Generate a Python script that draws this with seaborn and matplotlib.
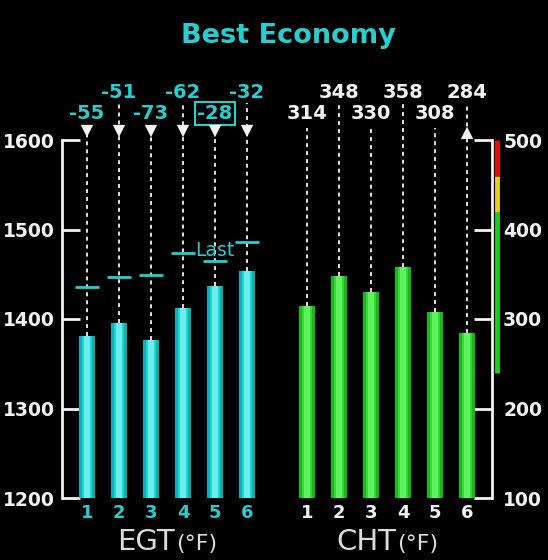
import matplotlib
matplotlib.use("Agg")
import matplotlib.pyplot as plt
import seaborn as sns

# engine monitor values
cylinders = ["1", "2", "3", "4", "5", "6"]
egt = [1381, 1396, 1376, 1412, 1437, 1454]
egt_peak = [1436, 1447, 1449, 1474, 1465, 1486]
egt_from_peak = ["-55", "-51", "-73", "-62", "-28", "-32"]
cht = [314, 348, 330, 358, 308, 284]
egt_ticks = [1200, 1300, 1400, 1500, 1600]
cht_ticks = [100, 200, 300, 400, 500]
cht_band = [240, 420, 460, 500]
cht_band_colors = ["#22cc22", "#e2d41e", "#dd1111"]
boxed_cyl = "5"
last_cyl = "5"
cht_marked_cyl = "6"

CYAN = "#25cfcf"
WHITE = "#f2f2f2"
GREY = "#dcdcdc"

sns.set_theme(style="dark", rc={
    "figure.facecolor": "black",
    "axes.facecolor": "black",
    "axes.grid": False,
})
plt.rcParams["font.family"] = ["DejaVu Sans"]

fig = plt.figure(figsize=(5.48, 5.60), dpi=100)
ax_egt = fig.add_axes([62 / 548, 62 / 560, 210 / 548, 358 / 560])
ax_cht = fig.add_axes([282 / 548, 62 / 560, 210 / 548, 358 / 560])


def draw_bars(ax, values, colors):
    # three layers to fake the cylinder shading
    for width, color in zip([0.5, 0.34, 0.16], colors):
        sns.barplot(x=cylinders, y=values, ax=ax, color=color, width=width,
                    saturation=1, errorbar=None, edgecolor="none",
                    linewidth=0, zorder=3)


def frac_to_data(ax, f):
    lo, hi = ax.get_ylim()
    return lo + f * (hi - lo)


# ---- EGT ----
ax = ax_egt
draw_bars(ax, egt, ["#0fb0b0", "#22d4d4", "#6aeeee"])
ax.set_ylim(1200, 1600)
ax.set_xlim(-0.78, 5.78)
for i, v in enumerate(egt):
    top = 1.014 if i % 2 == 0 else 1.103
    ax.vlines(i, v, frac_to_data(ax, top), colors=WHITE, lw=1.3,
              linestyles=(0, (2.2, 2.2)), clip_on=False, zorder=2)
    ax.hlines(egt_peak[i], i - 0.38, i + 0.38, colors=CYAN, lw=2, zorder=4)
    y_lab = 1.075 if i % 2 == 0 else 1.134
    box = None
    if cylinders[i] == boxed_cyl:
        box = dict(boxstyle="square,pad=0.1", fc="black", ec=CYAN, lw=1.5)
    ax.text(i, y_lab, egt_from_peak[i], transform=ax.get_xaxis_transform(),
            ha="center", va="center", color=CYAN, fontsize=14,
            fontweight="bold", bbox=box, zorder=5)
ax.scatter(range(len(cylinders)), [frac_to_data(ax, 1.025)] * len(cylinders),
           marker="v", s=80, color=WHITE, edgecolor="none", clip_on=False, zorder=5)
i_last = cylinders.index(last_cyl)
ax.text(i_last, egt_peak[i_last] + 12, "Last", ha="center", va="center",
        color=CYAN, fontsize=13.5, zorder=5)
ax.set_yticks(egt_ticks)
ax.tick_params(axis="y", direction="in", length=13, width=2, colors=WHITE,
               labelsize=13.5, pad=5, left=True)
ax.tick_params(axis="x", length=0, pad=4, labelsize=13, labelcolor=CYAN)
for lab in ax.get_yticklabels() + ax.get_xticklabels():
    lab.set_fontweight("bold")
for side in ["top", "right", "bottom"]:
    ax.spines[side].set_visible(False)
ax.spines["left"].set_color(WHITE)
ax.spines["left"].set_linewidth(2)
ax.set_xlabel("")
ax.set_ylabel("")

# ---- CHT ----
ax = ax_cht
draw_bars(ax, cht, ["#18b818", "#2ede2e", "#60f260"])
ax.set_ylim(100, 500)
ax.set_xlim(-0.78, 5.78)
for i, v in enumerate(cht):
    top = 1.034 if i % 2 == 0 else 1.103
    ax.vlines(i, v, frac_to_data(ax, top), colors=WHITE, lw=1.3,
              linestyles=(0, (2.2, 2.2)), clip_on=False, zorder=2)
    y_lab = 1.075 if i % 2 == 0 else 1.134
    ax.text(i, y_lab, str(v), transform=ax.get_xaxis_transform(),
            ha="center", va="center", color=WHITE, fontsize=14,
            fontweight="bold", zorder=5)
i_mark = cylinders.index(cht_marked_cyl)
ax.scatter([i_mark], [frac_to_data(ax, 1.02)], marker="^", s=80, color=WHITE,
           edgecolor="none", clip_on=False, zorder=5)
for lo, hi, c in zip(cht_band[:-1], cht_band[1:], cht_band_colors):
    ax.vlines(5.94, lo, hi, colors=c, lw=3.5, clip_on=False, zorder=4)
ax.yaxis.tick_right()
ax.set_yticks(cht_ticks)
ax.tick_params(axis="y", direction="in", length=13, width=2, colors=WHITE,
               labelsize=13.5, pad=8, right=True, left=False)
ax.tick_params(axis="x", length=0, pad=4, labelsize=13, labelcolor=WHITE)
for lab in ax.get_yticklabels() + ax.get_xticklabels():
    lab.set_fontweight("bold")
for side in ["top", "left", "bottom"]:
    ax.spines[side].set_visible(False)
ax.spines["right"].set_color(WHITE)
ax.spines["right"].set_linewidth(2)
ax.set_xlabel("")
ax.set_ylabel("")

# titles
fig.text(288 / 548, 1 - 36 / 560, "Best Economy", ha="center", va="center",
         color=CYAN, fontsize=19.5, fontweight="bold")
for x_split, name in [(175, "EGT"), (396, "CHT")]:
    fig.text(x_split / 548, 1 - 550 / 560, name, ha="right", va="baseline",
             color=GREY, fontsize=21)
    fig.text((x_split + 1) / 548, 1 - 550 / 560, "(°F)", ha="left",
             va="baseline", color=GREY, fontsize=16)

fig.savefig("out.png", dpi=100, facecolor="black")
